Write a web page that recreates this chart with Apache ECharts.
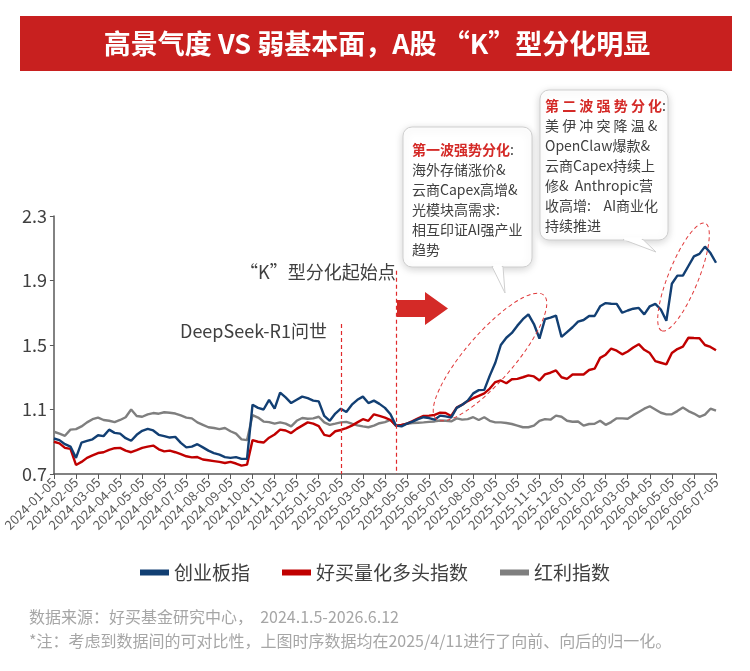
<!DOCTYPE html>
<html>
<head>
<meta charset="utf-8">
<script src="https://cdn.jsdelivr.net/npm/echarts@6/dist/echarts.min.js"></script>
<style>
  html, body { margin: 0; padding: 0; background: #fff; }
  #chart { width: 750px; height: 671px; }
</style>
</head>
<body>
<div id="chart"></div>
<script>
  // x轴月度刻度标签
  var monthLabels = [
    '2024-01-05', '2024-02-05', '2024-03-05', '2024-04-05', '2024-05-05', '2024-06-05',
    '2024-07-05', '2024-08-05', '2024-09-05', '2024-10-05', '2024-11-05', '2024-12-05',
    '2025-01-05', '2025-02-05', '2025-03-05', '2025-04-05', '2025-05-05', '2025-06-05',
    '2025-07-05', '2025-08-05', '2025-09-05', '2025-10-05', '2025-11-05', '2025-12-05',
    '2026-01-05', '2026-02-05', '2026-03-05', '2026-04-05', '2026-05-05', '2026-06-05',
    '2026-07-05'
  ]
  var weeksPerMonth = 4

  var yTicks = [0.7, 1.1, 1.5, 1.9, 2.3]

  var seriesNames = ['创业板指', '好买量化多头指数', '红利指数']

  // 创业板指 (周度, 2025/4/11 归一)
  var cybData = [
    0.92, 0.91, 0.885, 0.87, 0.80, 0.895, 0.905, 0.915, 0.94, 0.935,
    0.975, 0.955, 0.95, 0.922, 0.906, 0.943, 0.968, 0.98, 0.97, 0.943,
    0.935, 0.926, 0.93, 0.893, 0.865, 0.87, 0.885, 0.865, 0.845, 0.83,
    0.82, 0.805, 0.80, 0.805, 0.794, 0.794, 1.13, 1.11, 1.10, 1.16,
    1.105, 1.205, 1.175, 1.14, 1.16, 1.18, 1.17, 1.155, 1.15, 1.06,
    1.03, 1.075, 1.105, 1.085, 1.13, 1.16, 1.18, 1.14, 1.155, 1.135,
    1.11, 1.07, 1.00, 0.995, 1.012, 1.025, 1.04, 1.052, 1.047, 1.037,
    1.062, 1.057, 1.05, 1.11, 1.13, 1.155, 1.20, 1.22, 1.222, 1.31,
    1.39, 1.50, 1.545, 1.575, 1.62, 1.66, 1.69, 1.63, 1.54, 1.66,
    1.67, 1.682, 1.55, 1.58, 1.61, 1.645, 1.655, 1.68, 1.68, 1.74,
    1.76, 1.756, 1.755, 1.70, 1.714, 1.725, 1.73, 1.69, 1.74, 1.755,
    1.72, 1.65, 1.88, 1.93, 1.93, 1.99, 2.05, 2.065, 2.11, 2.07,
    2.01
  ]
  // 好买量化多头指数
  var hmData = [
    0.90, 0.89, 0.862, 0.856, 0.756, 0.775, 0.80, 0.815, 0.83, 0.835,
    0.85, 0.86, 0.862, 0.845, 0.835, 0.848, 0.862, 0.87, 0.876, 0.853,
    0.84, 0.845, 0.835, 0.823, 0.81, 0.803, 0.805, 0.79, 0.785, 0.78,
    0.775, 0.768, 0.775, 0.765, 0.752, 0.758, 0.91, 0.90, 0.895, 0.925,
    0.945, 0.975, 0.97, 0.954, 0.98, 1.00, 1.02, 1.012, 0.997, 0.943,
    0.935, 0.965, 0.973, 0.985, 1.00, 1.02, 1.04, 1.03, 1.07, 1.06,
    1.05, 1.035, 1.00, 1.005, 1.012, 1.028, 1.045, 1.06, 1.062, 1.066,
    1.08, 1.078, 1.06, 1.112, 1.13, 1.152, 1.17, 1.185, 1.20, 1.23,
    1.27, 1.28, 1.263, 1.288, 1.29, 1.30, 1.312, 1.305, 1.28, 1.318,
    1.328, 1.342, 1.30, 1.29, 1.317, 1.317, 1.317, 1.345, 1.353, 1.42,
    1.44, 1.478, 1.465, 1.442, 1.46, 1.485, 1.505, 1.47, 1.45, 1.40,
    1.39, 1.38, 1.45, 1.475, 1.49, 1.545, 1.543, 1.542, 1.50, 1.488,
    1.467
  ]
  // 红利指数
  var hlData = [
    0.962, 0.95, 0.937, 0.975, 0.978, 0.995, 1.02, 1.04, 1.05, 1.035,
    1.03, 1.022, 1.035, 1.052, 1.10, 1.06, 1.055, 1.07, 1.078, 1.074,
    1.083, 1.08, 1.075, 1.063, 1.05, 1.045, 1.02, 1.005, 0.99, 0.985,
    0.978, 0.985, 0.965, 0.95, 0.915, 0.91, 1.065, 1.05, 1.025, 1.022,
    1.012, 1.02, 1.012, 0.995, 1.03, 1.047, 1.043, 1.045, 1.055, 1.02,
    1.005, 1.012, 1.02, 1.023, 1.012, 1.002, 0.995, 0.99, 1.00, 1.015,
    1.022, 1.035, 1.00, 1.005, 1.012, 1.016, 1.018, 1.02, 1.023, 1.026,
    1.032, 1.03, 1.026, 1.045, 1.037, 1.04, 1.052, 1.035, 1.052, 1.03,
    1.02, 1.02, 1.016, 1.01, 1.00, 0.99, 0.99, 1.00, 1.03, 1.04,
    1.037, 1.062, 1.055, 1.03, 1.024, 1.026, 1.00, 1.01, 1.012, 1.03,
    1.005, 1.022, 1.045, 1.045, 1.043, 1.065, 1.085, 1.105, 1.12, 1.10,
    1.08, 1.07, 1.07, 1.09, 1.112, 1.09, 1.075, 1.055, 1.068, 1.105,
    1.093
  ]

  // 事件位置 (周序号) 与虚线顶端高度
  var deepseekIdx = 52
  var kStartIdx = 62
  var deepseekTop = 1.63
  var kStartTop = 1.96

  var FONT = '"Noto Sans CJK SC", "Noto Sans", sans-serif'

  // 每周一个类目, 每4周显示一个月度标签
  var cats = []
  for (var i = 0; i <= (monthLabels.length - 1) * weeksPerMonth; i++) {
    var m = monthLabels[Math.floor(i / weeksPerMonth)]
    cats.push(i % weeksPerMonth === 0 ? m : m + '~' + (i % weeksPerMonth))
  }

  var chart = echarts.init(document.getElementById('chart'))

  function bubble (x0, y0, x1, y1, tail) {
    return [
      {
        type: 'rect', z: 50,
        shape: { x: x0, y: y0, width: x1 - x0, height: y1 - y0, r: 9 },
        style: { fill: '#fff', stroke: '#cfcfcf', lineWidth: 1,
          shadowBlur: 8, shadowColor: 'rgba(0,0,0,0.18)', shadowOffsetY: 2 }
      },
      {
        type: 'polygon', z: 51,
        shape: { points: [[tail[0], y1 - 0.5], [tail[2], tail[3]], [tail[1], y1 - 0.5]] },
        style: { fill: '#fff', stroke: '#cfcfcf', lineWidth: 1 }
      },
      {
        type: 'rect', z: 52,
        shape: { x: tail[0] + 1.2, y: y1 - 2.5, width: tail[1] - tail[0] - 2.4, height: 3 },
        style: { fill: '#fff' }
      }
    ]
  }

  var graphics = [
    {
      type: 'rect', z: 10,
      shape: { x: 20, y: 16, width: 712, height: 55 },
      style: { fill: '#c8201f' }
    },
    {
      type: 'text', z: 11, x: 377, y: 44,
      style: { text: '高景气度 VS 弱基本面，A股 “K”型分化明显', fill: '#fff',
        fontSize: 27, fontWeight: 'bold', fontFamily: FONT, align: 'center', verticalAlign: 'middle' }
    },
    {
      type: 'text', z: 20, x: 180, y: 331,
      style: { text: 'DeepSeek-R1问世', fill: '#404040', fontSize: 18, fontFamily: FONT, verticalAlign: 'middle' }
    },
    {
      type: 'text', z: 20, x: 240, y: 272,
      style: { text: '“K”型分化起始点', fill: '#404040', fontSize: 18, fontFamily: FONT, verticalAlign: 'middle' }
    },
    {
      type: 'polygon', z: 20,
      shape: { points: [[397, 300], [425, 300], [425, 292], [448, 308.5], [425, 325], [425, 317], [397, 317]] },
      style: { fill: '#d42a27' }
    },
    {
      type: 'ellipse', z: 30, x: 490, y: 357, rotation: 49 * Math.PI / 180,
      shape: { cx: 0, cy: 0, rx: 82, ry: 24 },
      style: { fill: null, stroke: '#e0393a', lineWidth: 1, lineDash: [4, 3] }
    },
    {
      type: 'ellipse', z: 30, x: 683.5, y: 277, rotation: 68 * Math.PI / 180,
      shape: { cx: 0, cy: 0, rx: 58, ry: 15 },
      style: { fill: null, stroke: '#e0393a', lineWidth: 1, lineDash: [4, 3] }
    }
  ]
  graphics = graphics.concat(bubble(403, 127, 532, 267, [492, 503, 505, 293]))
  graphics = graphics.concat(bubble(540, 90, 668, 240, [623, 643, 656, 252]))
  graphics.push(
    {
      type: 'text', z: 60, x: 412, y: 140,
      style: {
        text: '{r|第一波强势分化}:\n海外存储涨价&\n云商Capex高增&\n光模块高需求:\n相互印证AI强产业\n趋势',
        fill: '#404040', fontSize: 14, fontFamily: FONT, lineHeight: 20,
        rich: { r: { fill: '#d42a27', fontSize: 14, fontWeight: 'bold', fontFamily: FONT, lineHeight: 20 } }
      }
    },
    {
      type: 'text', z: 60, x: 545, y: 96,
      style: {
        text: '{r|第 二 波 强 势 分 化}:\n美 伊 冲 突 降 温 &\nOpenClaw爆款&\n云商Capex持续上\n修&  Anthropic营\n收高增:    AI商业化\n持续推进',
        fill: '#404040', fontSize: 14, fontFamily: FONT, lineHeight: 20,
        rich: { r: { fill: '#d42a27', fontSize: 14, fontWeight: 'bold', fontFamily: FONT, lineHeight: 20 } }
      }
    },
    {
      type: 'text', z: 20, x: 29, y: 617,
      style: { text: '数据来源：好买基金研究中心，  2024.1.5-2026.6.12', fill: '#a6a6a6',
        fontSize: 16, fontFamily: FONT, verticalAlign: 'middle' }
    },
    {
      type: 'text', z: 20, x: 29, y: 641,
      style: { text: '*注：考虑到数据间的可对比性，上图时序数据均在2025/4/11进行了向前、向后的归一化。', fill: '#a6a6a6',
        fontSize: 16, fontFamily: FONT, verticalAlign: 'middle' }
    }
  )

  var axisColor = '#595959'

  chart.setOption({
    animation: false,
    textStyle: { fontFamily: FONT },
    grid: { left: 52, right: 34, top: 216, bottom: 197 },
    legend: {
      data: seriesNames,
      top: 558,
      left: 'center',
      icon: 'rect',
      itemWidth: 29,
      itemHeight: 6,
      itemGap: 32,
      textStyle: { fontSize: 19, color: '#404040', fontFamily: FONT }
    },
    xAxis: {
      type: 'category',
      data: cats,
      boundaryGap: false,
      axisLine: { lineStyle: { color: axisColor, width: 1.5 } },
      axisTick: { interval: weeksPerMonth - 1, length: 5, lineStyle: { color: axisColor, width: 1 } },
      axisLabel: {
        interval: weeksPerMonth - 1,
        rotate: 45,
        margin: 6,
        fontSize: 13,
        color: axisColor,
        fontFamily: FONT,
        formatter: function (v) { return v.split('~')[0] }
      },
      splitLine: { show: false }
    },
    yAxis: {
      type: 'value',
      min: 0.7,
      max: 2.3,
      axisLine: { show: true, lineStyle: { color: axisColor, width: 1.5 } },
      axisTick: { show: true, length: 4, customValues: yTicks, lineStyle: { color: axisColor } },
      axisLabel: {
        customValues: yTicks,
        fontSize: 18,
        color: '#404040',
        margin: 7,
        fontFamily: FONT,
        formatter: function (v) { return v.toFixed(1) }
      },
      splitLine: { show: false }
    },
    series: [
      {
        name: seriesNames[0], type: 'line', data: cybData, symbol: 'none', z: 4,
        itemStyle: { color: '#123f73' },
        lineStyle: { color: '#123f73', width: 2.4 },
        markLine: {
          silent: true,
          symbol: 'none',
          label: { show: false },
          lineStyle: { color: '#e0292b', type: [4, 3], width: 1.2 },
          data: [
            [{ coord: [cats[deepseekIdx], deepseekTop] }, { coord: [cats[deepseekIdx], 0.7] }],
            [{ coord: [cats[kStartIdx], kStartTop] }, { coord: [cats[kStartIdx], 0.7] }]
          ]
        }
      },
      {
        name: seriesNames[1], type: 'line', data: hmData, symbol: 'none', z: 3,
        itemStyle: { color: '#c00000' },
        lineStyle: { color: '#c00000', width: 2.4 }
      },
      {
        name: seriesNames[2], type: 'line', data: hlData, symbol: 'none', z: 2,
        itemStyle: { color: '#7f7f7f' },
        lineStyle: { color: '#7f7f7f', width: 2.4 }
      }
    ],
    graphic: graphics
  })
</script>
</body>
</html>
